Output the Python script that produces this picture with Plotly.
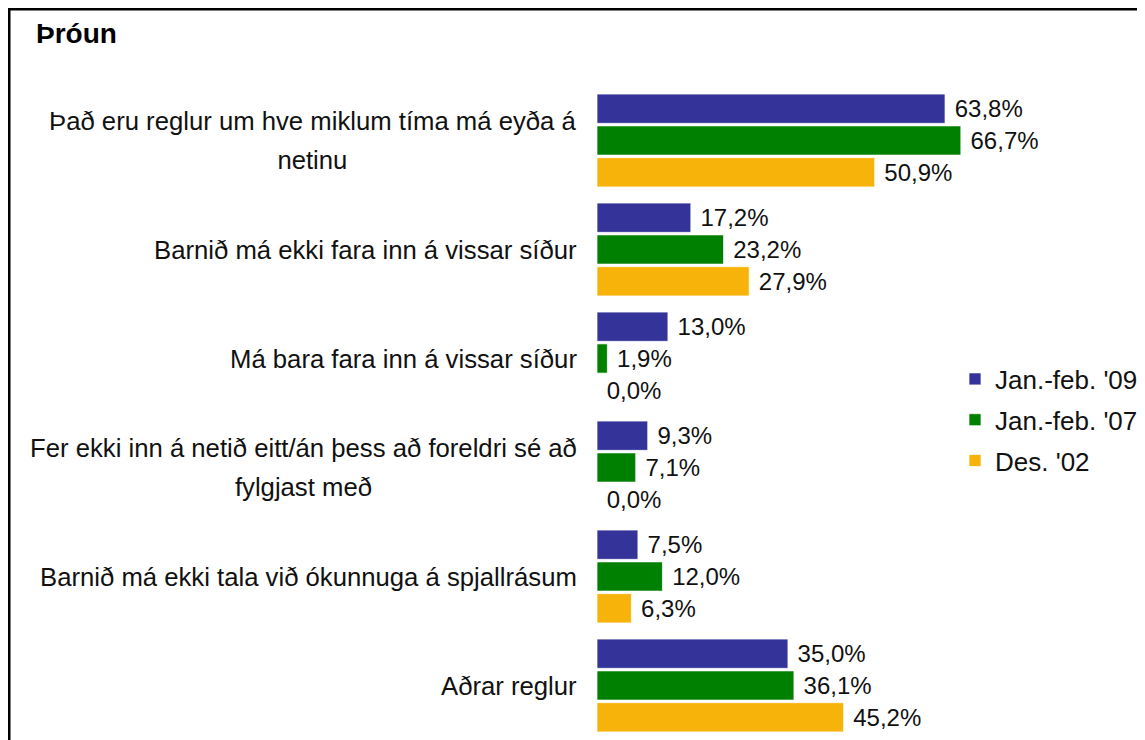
import plotly.graph_objects as go

categories = [
    "Það eru reglur um hve miklum tíma má eyða á<br>netinu",
    "Barnið má ekki fara inn á vissar síður",
    "Má bara fara inn á vissar síður",
    "Fer ekki inn á netið eitt/án þess að foreldri sé að<br>fylgjast með",
    "Barnið má ekki tala við ókunnuga á spjallrásum",
    "Aðrar reglur",
]
series_names = ["Jan.-feb. '09", "Jan.-feb. '07", "Des. '02"]
values_09 = [63.8, 17.2, 13.0, 9.3, 7.5, 35.0]
values_07 = [66.7, 23.2, 1.9, 7.1, 12.0, 36.1]
values_02 = [50.9, 27.9, 0.0, 0.0, 6.3, 45.2]
colors = ["#333399", "#008000", "#F7B309"]
title_text = "Þróun"

FONT = "Liberation Sans, Arial, sans-serif"

# page has an 8px body margin; figure is sized to fit the 1145x740 viewport
W, H = 1137, 732
L, T = 589, 78
PW, PH = W - L, H - T

fig = go.Figure()
for name, vals, col in zip(series_names, [values_09, values_07, values_02], colors):
    fig.add_trace(go.Bar(
        y=categories, x=vals, name=name, orientation="h",
        marker=dict(color=col, line=dict(color="rgba(255,255,255,0.7)", width=1)),
        texttemplate="\u00a0%{x:.1f}%", textposition="outside",
        textfont=dict(family=FONT, size=24, color="#111111"),
        constraintext="none", cliponaxis=False,
        legendgroup=name, hoverinfo="skip",
    ))

annotations = []
for c in categories:
    lines = c.split("<br>")
    txt = "<br>".join('<span style="font-size:25.7px">' + ln + "</span>" for ln in lines)
    annotations.append(dict(
        x=0, xref="paper", y=c, yref="y", text=txt, showarrow=False,
        xanchor="right", yanchor="middle", align="center", xshift=-18,
        font=dict(family=FONT, size=30, color="#111111"),
    ))

fig.update_layout(
    width=W, height=H,
    margin=dict(l=L, r=0, t=T, b=0),
    paper_bgcolor="white", plot_bgcolor="white",
    title=dict(
        text="<b>" + title_text + "</b>", xref="container", yref="container",
        x=28 / W, y=1 - 25 / H, xanchor="left", yanchor="middle",
        font=dict(family=FONT, size=28, color="#000000"),
    ),
    barmode="group", bargap=0.125, bargroupgap=0.08,
    separators=",.",
    xaxis=dict(range=[0, PW / 5.455], visible=False, fixedrange=True),
    yaxis=dict(autorange="reversed", showticklabels=False, showgrid=False,
               zeroline=False, showline=False, ticks=""),
    legend=dict(
        xref="paper", yref="paper", x=(947 - L) / PW, y=(H - 412) / PH,
        xanchor="left", yanchor="middle", traceorder="grouped", tracegroupgap=4,
        font=dict(family=FONT, size=26, color="#111111"), bgcolor="rgba(0,0,0,0)",
    ),
    annotations=annotations,
    shapes=[dict(
        type="rect", xref="paper", yref="paper",
        x0=(1 - L) / PW, x1=1.2,
        y0=-0.1, y1=(H - 1) / PH,
        line=dict(color="black", width=3), fillcolor="rgba(0,0,0,0)", layer="above",
    )],
    showlegend=True,
)

fig.write_html("out.html")
